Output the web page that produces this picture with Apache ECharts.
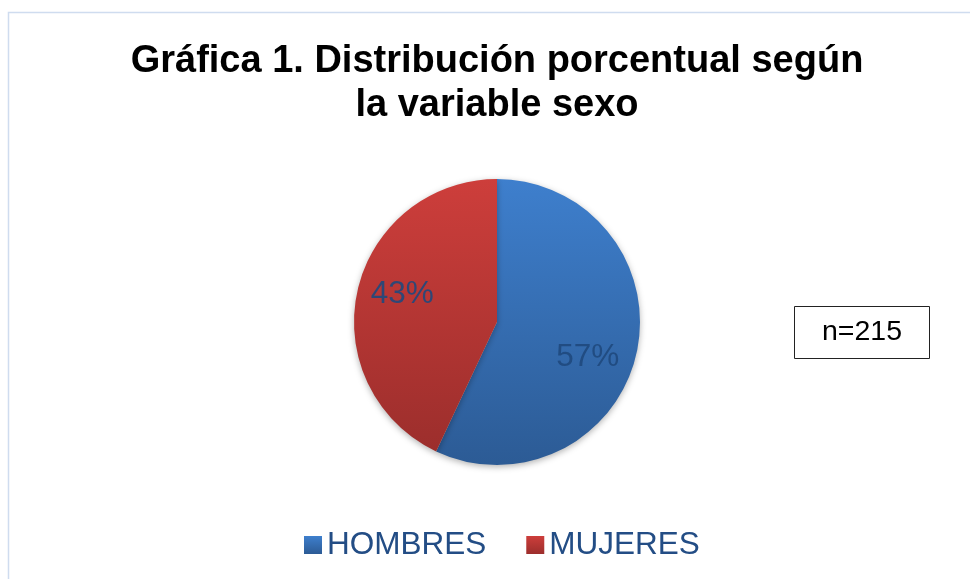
<!DOCTYPE html>
<html>
<head>
<meta charset="utf-8">
<script src="https://cdn.jsdelivr.net/npm/echarts@6/dist/echarts.min.js"></script>
<style>
  html, body { margin: 0; padding: 0; background: #fff; }
  #chart { width: 970px; height: 579px; }
</style>
</head>
<body>
<div id="chart"></div>
<script>
// datos de la gráfica
const categorias = ['HOMBRES', 'MUJERES'];
const porcentajes = [57, 43];
const totalN = 'n=215';

const gradientes = [
  ['#3e7fcd', '#2c5b95'],
  ['#cd3e3b', '#9c2e2c']
];
// desplazamiento de cada etiqueta
const offsets = [[18, 19], [-22, -11]];

const chart = echarts.init(document.getElementById('chart'));

chart.setOption({
  backgroundColor: '#fff',
  title: {
    text: 'Gráfica 1. Distribución porcentual según\nla variable sexo',
    left: 497,
    textAlign: 'center',
    top: 40,
    padding: 0,
    textStyle: {
      fontFamily: 'Liberation Sans',
      fontSize: 38,
      fontWeight: 'bold',
      color: '#000',
      lineHeight: 44
    }
  },
  legend: {
    data: categorias,
    left: 304,
    top: 529,
    padding: 0,
    icon: 'rect',
    itemWidth: 18,
    itemHeight: 18,
    itemGap: 40,
    textStyle: {
      fontFamily: 'Liberation Sans',
      fontSize: 31.5,
      color: '#234d85',
      lineHeight: 30
    }
  },
  graphic: [
    {
      type: 'rect',
      shape: { x: 8.5, y: 12.5, width: 990, height: 600 },
      style: { fill: 'none', stroke: '#cfdcef', lineWidth: 1.5 },
      silent: true
    },
    {
      type: 'group',
      left: 794,
      top: 306,
      children: [
        {
          type: 'rect',
          shape: { x: 0, y: 0, width: 135, height: 52 },
          style: { fill: '#fff', stroke: '#222', lineWidth: 1 }
        },
        {
          type: 'text',
          x: 67.5,
          y: 26,
          style: {
            text: totalN,
            fontFamily: 'Liberation Sans',
            fontSize: 28.5,
            fill: '#000',
            align: 'center',
            verticalAlign: 'middle'
          }
        }
      ]
    }
  ],
  series: [{
    type: 'pie',
    center: [497, 322],
    radius: 143,
    startAngle: 90,
    clockwise: true,
    silent: true,
    labelLine: { show: false },
    label: {
      show: true,
      position: 'inside',
      formatter: '{c}%',
      fontFamily: 'Liberation Sans',
      fontSize: 31.5,
      color: 'rgba(31, 73, 125, 0.9)'
    },
    itemStyle: {
      shadowBlur: 6,
      shadowOffsetY: 2,
      shadowColor: 'rgba(0,0,0,0.3)'
    },
    data: categorias.map((name, i) => ({
      name,
      value: porcentajes[i],
      label: { offset: offsets[i] },
      itemStyle: {
        color: new echarts.graphic.LinearGradient(0, 0, 0, 1, [
          { offset: 0, color: gradientes[i][0] },
          { offset: 1, color: gradientes[i][1] }
        ])
      }
    }))
  }]
});
</script>
</body>
</html>
